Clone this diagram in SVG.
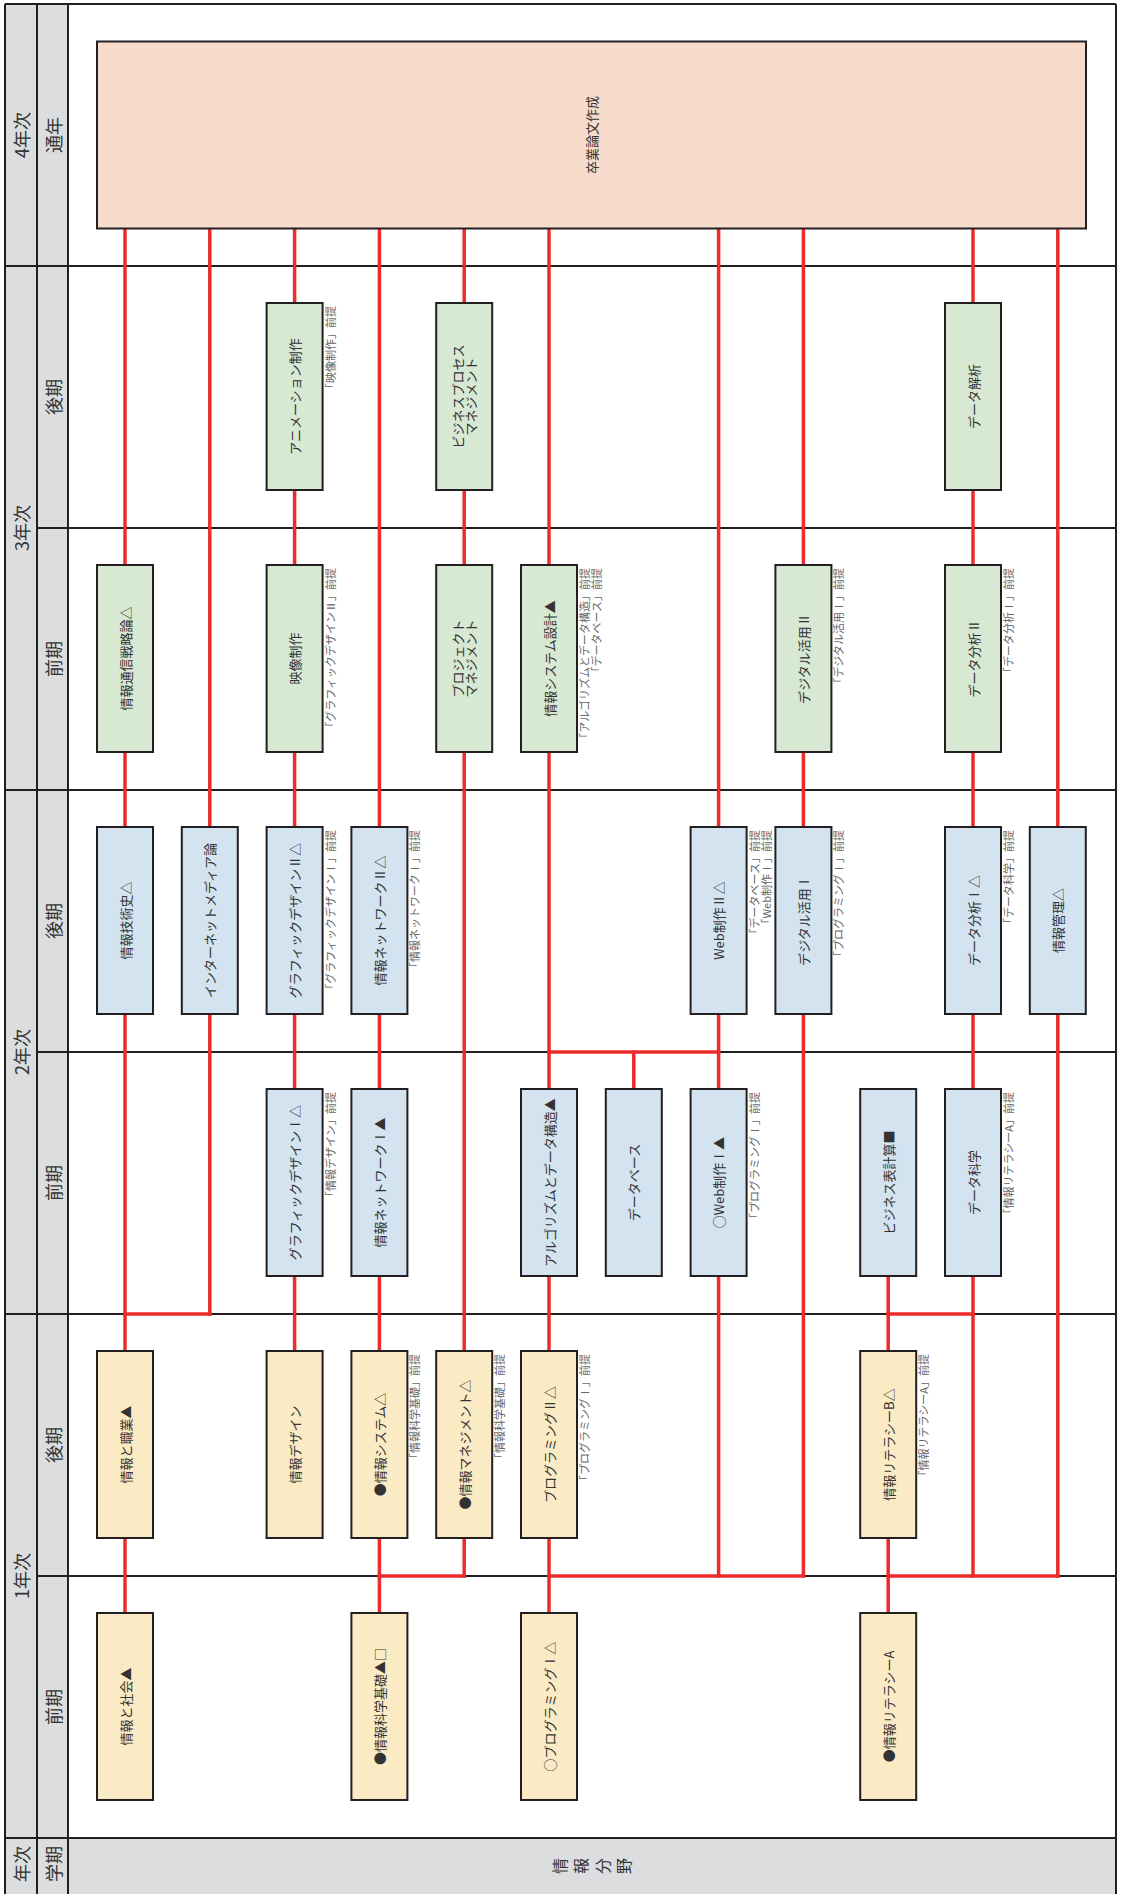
<svg xmlns="http://www.w3.org/2000/svg" width="1124" height="1894" viewBox="0 0 1124 1894">
<style>
text{font-family:"Noto Sans CJK JP","Noto Sans",sans-serif;dominant-baseline:central}
.hd{font-size:18px;fill:#333;text-anchor:middle}
.lbl{font-size:13px;fill:#333;text-anchor:middle}
.note{font-size:11px;fill:#666;text-anchor:end}
.box{stroke:#231f20;stroke-width:2}
.y{fill:#faebc5}.b{fill:#d3e4f0}.g{fill:#d7e8d3}.s{fill:#f7dbcb}
.grid line{stroke:#231f20;stroke-width:2}
.conn line{stroke:#ee2b2b;stroke-width:3.5;stroke-linecap:square}
</style>
<rect x="0" y="0" width="1124" height="1894" fill="#fff"/>
<g id="header-bg" fill="#dcdddf">
<rect x="5" y="4" width="63" height="1890"/>
<rect x="5" y="1838" width="1111" height="56"/>
</g>
<g id="grid" class="grid">
<line x1="5" y1="4" x2="1116" y2="4"/>
<line x1="5" y1="4" x2="5" y2="1894"/>
<line x1="1116" y1="4" x2="1116" y2="1894"/>
<line x1="37" y1="4" x2="37" y2="1894"/>
<line x1="68" y1="4" x2="68" y2="1894"/>
<line x1="5" y1="266" x2="1116" y2="266"/>
<line x1="37" y1="528" x2="1116" y2="528"/>
<line x1="5" y1="790" x2="1116" y2="790"/>
<line x1="37" y1="1052" x2="1116" y2="1052"/>
<line x1="5" y1="1314" x2="1116" y2="1314"/>
<line x1="37" y1="1576" x2="1116" y2="1576"/>
<line x1="5" y1="1838" x2="1116" y2="1838"/>
</g>
<g id="header-text">
<text class="hd" transform="translate(21,135) rotate(-90)">4年次</text>
<text class="hd" transform="translate(52.5,135) rotate(-90)">通年</text>
<text class="hd" transform="translate(21,528) rotate(-90)">3年次</text>
<text class="hd" transform="translate(52.5,397) rotate(-90)">後期</text>
<text class="hd" transform="translate(52.5,659) rotate(-90)">前期</text>
<text class="hd" transform="translate(21,1052) rotate(-90)">2年次</text>
<text class="hd" transform="translate(52.5,921) rotate(-90)">後期</text>
<text class="hd" transform="translate(52.5,1183) rotate(-90)">前期</text>
<text class="hd" transform="translate(21,1576) rotate(-90)">1年次</text>
<text class="hd" transform="translate(52.5,1445) rotate(-90)">後期</text>
<text class="hd" transform="translate(52.5,1707) rotate(-90)">前期</text>
<text class="hd" transform="translate(21,1864) rotate(-90)">年次</text>
<text class="hd" transform="translate(52.5,1864) rotate(-90)">学期</text>
<text class="hd" style="font-size:16px" transform="translate(559,1866) rotate(-90)">情</text>
<text class="hd" style="font-size:16px" transform="translate(580,1866) rotate(-90)">報</text>
<text class="hd" style="font-size:16px" transform="translate(602,1866) rotate(-90)">分</text>
<text class="hd" style="font-size:16px" transform="translate(623,1866) rotate(-90)">野</text>
</g>
<g id="connectors" class="conn">
<line x1="125" y1="228" x2="125" y2="1614"/>
<line x1="209.8" y1="228" x2="209.8" y2="1314"/>
<line x1="125" y1="1314" x2="209.8" y2="1314"/>
<line x1="294.6" y1="228" x2="294.6" y2="1352"/>
<line x1="379.4" y1="228" x2="379.4" y2="1614"/>
<line x1="464.2" y1="228" x2="464.2" y2="1576"/>
<line x1="379.4" y1="1576" x2="464.2" y2="1576"/>
<line x1="549" y1="228" x2="549" y2="1614"/>
<line x1="549" y1="1052" x2="718.6" y2="1052"/>
<line x1="633.8" y1="1052" x2="633.8" y2="1090"/>
<line x1="718.6" y1="228" x2="718.6" y2="1576"/>
<line x1="803.4" y1="228" x2="803.4" y2="1576"/>
<line x1="549" y1="1576" x2="803.4" y2="1576"/>
<line x1="888.2" y1="1276" x2="888.2" y2="1614"/>
<line x1="888.2" y1="1314" x2="973" y2="1314"/>
<line x1="888.2" y1="1576" x2="1057.8" y2="1576"/>
<line x1="973" y1="228" x2="973" y2="1576"/>
<line x1="1057.8" y1="228" x2="1057.8" y2="1576"/>
</g>
<g id="n-sotsuron"><rect class="box s" x="97" y="41.5" width="989" height="187"/><text class="lbl" transform="translate(591.5,135) rotate(-90)">卒業論文作成</text></g>
<!-- 3年後期 -->
<g id="n-anime"><rect class="box g" x="266.6" y="303" width="56" height="187"/><text class="lbl" transform="translate(294.6,396.5) rotate(-90)">アニメーション制作</text><text class="note" transform="translate(329.6,306) rotate(-90)">「映像制作」前提</text></g>
<g id="n-bpm"><rect class="box g" x="436.2" y="303" width="56" height="187"/><text class="lbl" transform="translate(457.7,396.5) rotate(-90)">ビジネスプロセス</text><text class="lbl" transform="translate(470.7,396.5) rotate(-90)">マネジメント</text></g>
<g id="n-datakaiseki"><rect class="box g" x="945" y="303" width="56" height="187"/><text class="lbl" transform="translate(973,396.5) rotate(-90)">データ解析</text></g>
<!-- 3年前期 -->
<g id="n-tsushin"><rect class="box g" x="97" y="565" width="56" height="187"/><text class="lbl" transform="translate(125,658.5) rotate(-90)">情報通信戦略論△</text></g>
<g id="n-eizo"><rect class="box g" x="266.6" y="565" width="56" height="187"/><text class="lbl" transform="translate(294.6,658.5) rotate(-90)">映像制作</text><text class="note" transform="translate(329.6,568) rotate(-90)">「グラフィックデザインⅡ」前提</text></g>
<g id="n-pm"><rect class="box g" x="436.2" y="565" width="56" height="187"/><text class="lbl" transform="translate(457.7,658.5) rotate(-90)">プロジェクト</text><text class="lbl" transform="translate(470.7,658.5) rotate(-90)">マネジメント</text></g>
<g id="n-sysdesign"><rect class="box g" x="521" y="565" width="56" height="187"/><text class="lbl" transform="translate(549,658.5) rotate(-90)">情報システム設計▲</text><text class="note" transform="translate(584,568) rotate(-90)">「アルゴリズムとデータ構造」前提</text><text class="note" transform="translate(596,568) rotate(-90)">「データベース」前提</text></g>
<g id="n-digi2"><rect class="box g" x="775.4" y="565" width="56" height="187"/><text class="lbl" transform="translate(803.4,658.5) rotate(-90)">デジタル活用Ⅱ</text><text class="note" transform="translate(838.4,568) rotate(-90)">「デジタル活用Ⅰ」前提</text></g>
<g id="n-bunseki2"><rect class="box g" x="945" y="565" width="56" height="187"/><text class="lbl" transform="translate(973,658.5) rotate(-90)">データ分析Ⅱ</text><text class="note" transform="translate(1008,568) rotate(-90)">「データ分析Ⅰ」前提</text></g>
<!-- 2年後期 -->
<g id="n-gijutsushi"><rect class="box b" x="97" y="827" width="56" height="187"/><text class="lbl" transform="translate(125,920.5) rotate(-90)">情報技術史△</text></g>
<g id="n-internet"><rect class="box b" x="181.8" y="827" width="56" height="187"/><text class="lbl" transform="translate(209.8,920.5) rotate(-90)">インターネットメディア論</text></g>
<g id="n-gd2"><rect class="box b" x="266.6" y="827" width="56" height="187"/><text class="lbl" transform="translate(294.6,920.5) rotate(-90)">グラフィックデザインⅡ△</text><text class="note" transform="translate(329.6,830) rotate(-90)">「グラフィックデザインⅠ」前提</text></g>
<g id="n-nw2"><rect class="box b" x="351.4" y="827" width="56" height="187"/><text class="lbl" transform="translate(379.4,920.5) rotate(-90)">情報ネットワークⅡ△</text><text class="note" transform="translate(414.4,830) rotate(-90)">「情報ネットワークⅠ」前提</text></g>
<g id="n-web2"><rect class="box b" x="690.6" y="827" width="56" height="187"/><text class="lbl" transform="translate(718.6,920.5) rotate(-90)">Web制作Ⅱ△</text><text class="note" transform="translate(753.6,830) rotate(-90)">「データベース」前提</text><text class="note" transform="translate(766,830) rotate(-90)">「Web制作Ⅰ」前提</text></g>
<g id="n-digi1"><rect class="box b" x="775.4" y="827" width="56" height="187"/><text class="lbl" transform="translate(803.4,920.5) rotate(-90)">デジタル活用Ⅰ</text><text class="note" transform="translate(838.4,830) rotate(-90)">「プログラミングⅠ」前提</text></g>
<g id="n-bunseki1"><rect class="box b" x="945" y="827" width="56" height="187"/><text class="lbl" transform="translate(973,920.5) rotate(-90)">データ分析Ⅰ△</text><text class="note" transform="translate(1008,830) rotate(-90)">「データ科学」前提</text></g>
<g id="n-kanri"><rect class="box b" x="1029.8" y="827" width="56" height="187"/><text class="lbl" transform="translate(1057.8,920.5) rotate(-90)">情報管理△</text></g>
<!-- 2年前期 -->
<g id="n-gd1"><rect class="box b" x="266.6" y="1089" width="56" height="187"/><text class="lbl" transform="translate(294.6,1182.5) rotate(-90)">グラフィックデザインⅠ△</text><text class="note" transform="translate(329.6,1092) rotate(-90)">「情報デザイン」前提</text></g>
<g id="n-nw1"><rect class="box b" x="351.4" y="1089" width="56" height="187"/><text class="lbl" transform="translate(379.4,1182.5) rotate(-90)">情報ネットワークⅠ▲</text></g>
<g id="n-algo"><rect class="box b" x="521" y="1089" width="56" height="187"/><text class="lbl" transform="translate(549,1182.5) rotate(-90)">アルゴリズムとデータ構造▲</text></g>
<g id="n-db"><rect class="box b" x="605.8" y="1089" width="56" height="187"/><text class="lbl" transform="translate(633.8,1182.5) rotate(-90)">データベース</text></g>
<g id="n-web1"><rect class="box b" x="690.6" y="1089" width="56" height="187"/><text class="lbl" transform="translate(718.6,1182.5) rotate(-90)">○Web制作Ⅰ▲</text><text class="note" transform="translate(753.6,1092) rotate(-90)">「プログラミングⅠ」前提</text></g>
<g id="n-hyokeisan"><rect class="box b" x="860.2" y="1089" width="56" height="187"/><text class="lbl" transform="translate(888.2,1182.5) rotate(-90)">ビジネス表計算■</text></g>
<g id="n-datakagaku"><rect class="box b" x="945" y="1089" width="56" height="187"/><text class="lbl" transform="translate(973,1182.5) rotate(-90)">データ科学</text><text class="note" transform="translate(1008,1092) rotate(-90)">「情報リテラシーA」前提</text></g>
<!-- 1年後期 -->
<g id="n-shokugyo"><rect class="box y" x="97" y="1351" width="56" height="187"/><text class="lbl" transform="translate(125,1444.5) rotate(-90)">情報と職業▲</text></g>
<g id="n-design"><rect class="box y" x="266.6" y="1351" width="56" height="187"/><text class="lbl" transform="translate(294.6,1444.5) rotate(-90)">情報デザイン</text></g>
<g id="n-system"><rect class="box y" x="351.4" y="1351" width="56" height="187"/><text class="lbl" transform="translate(379.4,1444.5) rotate(-90)">●情報システム△</text><text class="note" transform="translate(414.4,1354) rotate(-90)">「情報科学基礎」前提</text></g>
<g id="n-mgmt"><rect class="box y" x="436.2" y="1351" width="56" height="187"/><text class="lbl" transform="translate(464.2,1444.5) rotate(-90)">●情報マネジメント△</text><text class="note" transform="translate(499.2,1354) rotate(-90)">「情報科学基礎」前提</text></g>
<g id="n-prog2"><rect class="box y" x="521" y="1351" width="56" height="187"/><text class="lbl" transform="translate(549,1444.5) rotate(-90)">プログラミングⅡ△</text><text class="note" transform="translate(584,1354) rotate(-90)">「プログラミングⅠ」前提</text></g>
<g id="n-litb"><rect class="box y" x="860.2" y="1351" width="56" height="187"/><text class="lbl" transform="translate(888.2,1444.5) rotate(-90)">情報リテラシーB△</text><text class="note" transform="translate(923.2,1354) rotate(-90)">「情報リテラシーA」前提</text></g>
<!-- 1年前期 -->
<g id="n-shakai"><rect class="box y" x="97" y="1613" width="56" height="187"/><text class="lbl" transform="translate(125,1706.5) rotate(-90)">情報と社会▲</text></g>
<g id="n-kagaku"><rect class="box y" x="351.4" y="1613" width="56" height="187"/><text class="lbl" transform="translate(379.4,1706.5) rotate(-90)">●情報科学基礎▲□</text></g>
<g id="n-prog1"><rect class="box y" x="521" y="1613" width="56" height="187"/><text class="lbl" transform="translate(549,1706.5) rotate(-90)">○プログラミングⅠ△</text></g>
<g id="n-lita"><rect class="box y" x="860.2" y="1613" width="56" height="187"/><text class="lbl" transform="translate(888.2,1706.5) rotate(-90)">●情報リテラシーA</text></g>
</svg>
